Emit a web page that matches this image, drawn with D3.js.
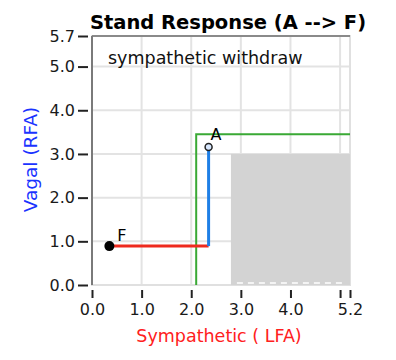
<!DOCTYPE html>
<html>
<head>
<meta charset="utf-8">
<script src="https://cdn.jsdelivr.net/npm/d3@7"></script>
<style>
  body { margin: 0; background: #fff; }
  text { font-family: "DejaVu Sans", sans-serif; }
</style>
</head>
<body>
<div id="chart"></div>
<script>
// chart values
var xTicks = [0, 1, 2, 3, 4, 5, 5.2];
var yTicks = [0, 1, 2, 3, 4, 5, 5.7];
var xGrid = [1, 2, 3, 4, 5];
var yGrid = [1, 2, 3, 4, 5];
var thresholdLine = [[2.1, 0], [2.1, 3.45], [5.2, 3.45]];
var vagalPath = [[2.35, 0.89], [2.35, 3.16]];
var sympPath = [[0.35, 0.89], [2.35, 0.89]];
var pointLabels = ["A", "F"];
var pointX = [2.35, 0.35];
var pointY = [3.16, 0.89];
var zoneX = [2.8, 5.2];
var zoneY = [0, 3.0];

var width = 396, height = 360;
var margin = {top: 36, right: 46, bottom: 75, left: 92};
var w = width - margin.left - margin.right;
var h = height - margin.top - margin.bottom;

var xScale = d3.scaleLinear().domain([0, 5.2]).range([0, w]);
var yScale = d3.scaleLinear().domain([0, 5.7]).range([h, 0]);

var svg = d3.select("#chart")
    .append("svg")
    .attr("width", width)
    .attr("height", height)
    .append("g")
    .attr("transform", "translate(" + margin.left + "," + margin.top + ")");

// grid
svg.selectAll(".vgrid").data(xGrid).enter().append("line")
    .attr("x1", function(d) { return xScale(d); })
    .attr("x2", function(d) { return xScale(d); })
    .attr("y1", 0).attr("y2", h)
    .attr("stroke", "#e3e3e3").attr("stroke-width", 2);
svg.selectAll(".hgrid").data(yGrid).enter().append("line")
    .attr("y1", function(d) { return yScale(d); })
    .attr("y2", function(d) { return yScale(d); })
    .attr("x1", 0).attr("x2", w)
    .attr("stroke", "#e3e3e3").attr("stroke-width", 2);

// frame
svg.append("rect")
    .attr("x", 0).attr("y", 0).attr("width", w).attr("height", h)
    .attr("fill", "none").attr("stroke", "#e0e0e0").attr("stroke-width", 2);
svg.append("line")
    .attr("x1", 0).attr("x2", w).attr("y1", 0).attr("y2", 0)
    .attr("stroke", "#8a8a8a").attr("stroke-width", 2);

// gray zone
svg.append("rect")
    .attr("x", xScale(zoneX[0]))
    .attr("y", yScale(zoneY[1]))
    .attr("width", xScale(zoneX[1]) - xScale(zoneX[0]))
    .attr("height", yScale(zoneY[0]) - yScale(zoneY[1]))
    .attr("fill", "#d3d3d3");
svg.append("line")
    .attr("x1", xScale(zoneX[0]) + 6).attr("x2", xScale(zoneX[1]) - 4)
    .attr("y1", yScale(zoneY[0]) - 2).attr("y2", yScale(zoneY[0]) - 2)
    .attr("stroke", "#f4f4f4").attr("stroke-width", 2)
    .attr("stroke-dasharray", "6,5");

// left axis line
svg.append("line")
    .attr("x1", 0).attr("x2", 0).attr("y1", 0).attr("y2", h)
    .attr("stroke", "#7a7a7a").attr("stroke-width", 2);

var line = d3.line()
    .x(function(d) { return xScale(d[0]); })
    .y(function(d) { return yScale(d[1]); });

svg.append("path").datum(thresholdLine)
    .attr("d", line).attr("fill", "none")
    .attr("stroke", "#3aa935").attr("stroke-width", 2);
svg.append("path").datum(sympPath)
    .attr("d", line).attr("fill", "none")
    .attr("stroke", "#ee2a1e").attr("stroke-width", 3);
svg.append("path").datum(vagalPath)
    .attr("d", line).attr("fill", "none")
    .attr("stroke", "#1f7fe6").attr("stroke-width", 3);

// points
svg.append("circle")
    .attr("cx", xScale(pointX[0])).attr("cy", yScale(pointY[0])).attr("r", 3.5)
    .attr("fill", "#d8e8ff").attr("stroke", "#222").attr("stroke-width", 1.5);
svg.append("circle")
    .attr("cx", xScale(pointX[1])).attr("cy", yScale(pointY[1])).attr("r", 5)
    .attr("fill", "#000");
svg.append("text")
    .attr("x", xScale(pointX[0]) + 2).attr("y", yScale(pointY[0]) - 7)
    .style("font-size", "16px").text(pointLabels[0]);
svg.append("text")
    .attr("x", xScale(pointX[1]) + 8).attr("y", yScale(pointY[1]) - 5)
    .style("font-size", "16px").text(pointLabels[1]);

// axes
var fmt = d3.format(".1f");
var yAxis = svg.append("g")
    .attr("transform", "translate(-4,0)")
    .call(d3.axisLeft(yScale).tickValues(yTicks).tickSize(10).tickPadding(3).tickFormat(fmt));
yAxis.select(".domain").remove();
yAxis.selectAll("line").attr("stroke", "#222").attr("stroke-width", 2);
yAxis.selectAll("text").style("font-size", "16px").attr("fill", "#1a1a1a")
    .style("font-family", "DejaVu Sans");

var xAxis = svg.append("g")
    .attr("transform", "translate(0," + (h + 5) + ")")
    .call(d3.axisBottom(xScale).tickValues(xTicks).tickSize(8).tickPadding(6)
        .tickFormat(function(d) { return d === 5 ? "" : fmt(d); }));
xAxis.select(".domain").remove();
xAxis.selectAll("line").attr("stroke", "#222").attr("stroke-width", 2);
xAxis.selectAll("text").style("font-size", "16px").attr("fill", "#1a1a1a")
    .style("font-family", "DejaVu Sans");

// titles
svg.append("text")
    .attr("x", 136).attr("y", -7)
    .style("text-anchor", "middle")
    .style("font-size", "19.5px").style("font-weight", "bold")
    .text("Stand Response (A --> F)");

svg.append("text")
    .attr("x", 16).attr("y", 28)
    .style("font-size", "17.5px").attr("fill", "#111")
    .text("sympathetic withdraw");

svg.append("text")
    .attr("x", 127).attr("y", h + 57)
    .style("text-anchor", "middle")
    .style("font-size", "17.5px").attr("fill", "#ff2020")
    .text("Sympathetic ( LFA)");

svg.append("text")
    .attr("transform", "rotate(-90)")
    .attr("x", -(h / 2) + 1).attr("y", -55)
    .style("text-anchor", "middle")
    .style("font-size", "18.5px").attr("fill", "#1a33ff")
    .text("Vagal (RFA)");
</script>
</body>
</html>
